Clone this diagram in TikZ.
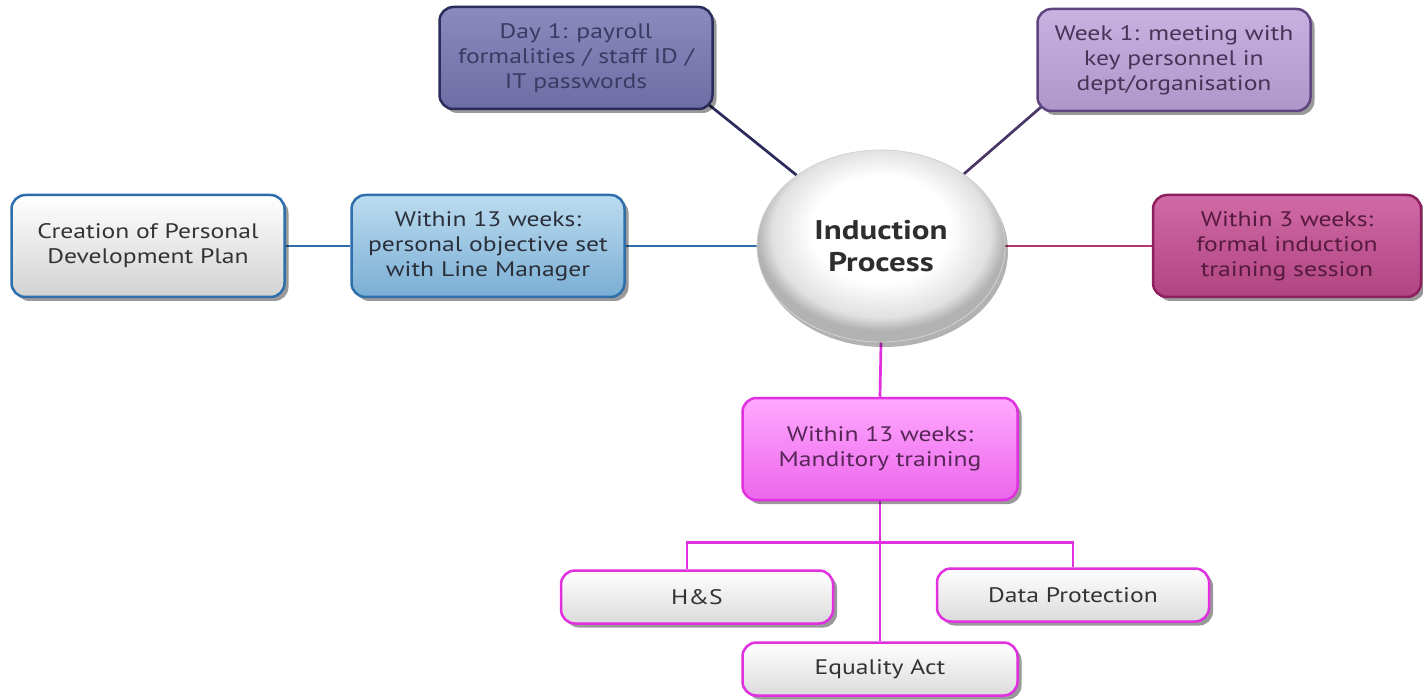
\documentclass[tikz,border=0pt]{standalone}
\usepackage{fontspec}
\setmainfont{PT Sans}[FakeStretch=1.22]
\usetikzlibrary{shadows,shapes.geometric}
\pgfdeclarelayer{back}
\pgfdeclarelayer{bg}
\pgfsetlayers{back,bg,main}
\pgfdeclareradialshading{whiteball}{\pgfpoint{0bp}{6bp}}{color(0bp)=(white); color(14bp)=(white); color(22bp)=(black!12); color(25bp)=(black!30); color(50bp)=(black!30)}
\definecolor{dayB}{HTML}{2B2B5C}\definecolor{dayT}{HTML}{8A8ABE}\definecolor{dayL}{HTML}{6E6EA6}\definecolor{dayX}{HTML}{3A3A62}
\definecolor{wkB}{HTML}{5E4580}\definecolor{wkT}{HTML}{C8B2E0}\definecolor{wkL}{HTML}{AE96CA}\definecolor{wkX}{HTML}{453456}
\definecolor{blB}{HTML}{2E6EAA}\definecolor{blT}{HTML}{BCDCF0}\definecolor{blL}{HTML}{7AAED4}\definecolor{blX}{HTML}{2A2F3A}
\definecolor{pkB}{HTML}{8C1F5E}\definecolor{pkT}{HTML}{D06AA6}\definecolor{pkL}{HTML}{B04482}\definecolor{pkX}{HTML}{561A3E}\definecolor{pkLine}{HTML}{B03878}
\definecolor{mgB}{HTML}{E030E0}\definecolor{mgT}{HTML}{FFA8FF}\definecolor{mgL}{HTML}{EC66EC}\definecolor{mgX}{HTML}{562656}
\definecolor{grL}{HTML}{D2D2D2}\definecolor{txt}{HTML}{333333}
\begin{document}
\begin{tikzpicture}[x=1pt,y=-1pt,
  box/.style={rectangle, rounded corners=14pt, line width=2.5pt, align=center, inner sep=0pt,
    minimum width=273pt, minimum height=102pt,
    font=\fontsize{21}{25}\selectfont,
    drop shadow={shadow xshift=4pt, shadow yshift=-4pt, opacity=0.4, fill=black}},
  small/.style={box, minimum height=53pt, minimum width=272pt},
  conn/.style={line width=2.7pt}]
\begin{pgfonlayer}{back}
\fill[white] (0,0) rectangle (1423,700);
\end{pgfonlayer}
\useasboundingbox (0,0) rectangle (1423,700);

\node[box, draw=dayB, top color=dayT, bottom color=dayL, text=dayX] (day1) at (576,58) {Day 1: payroll\\formalities / staff ID /\\IT passwords};
\node[box, draw=wkB, top color=wkT, bottom color=wkL, text=wkX] (week1) at (1174,60) {Week 1: meeting with\\key personnel in\\dept/organisation};
\node[box, draw=blB, top color=white, bottom color=grL, text=txt] (pdp) at (148,246) {Creation of Personal\\Development Plan};
\node[box, draw=blB, top color=blT, bottom color=blL, text=blX] (obj) at (488,246) {Within 13 weeks:\\personal objective set\\with Line Manager};
\node[box, draw=pkB, top color=pkT, bottom color=pkL, text=pkX, minimum width=268pt] (three) at (1287,246) {Within 3 weeks:\\formal induction\\training session};
\node[ellipse, minimum width=248pt, minimum height=192pt, inner sep=0pt, shading=whiteball,
  draw=gray!35, line width=0.8pt, align=center, text=black!82,
  font=\fontsize{27}{32}\selectfont\bfseries,
  drop shadow={shadow xshift=3pt, shadow yshift=-5pt, opacity=0.3, fill=black}] (circ) at (881,246) {Induction\\Process};
\node[box, draw=mgB, top color=mgT, bottom color=mgL, text=mgX, minimum width=275pt] (mand) at (880,449) {Within 13 weeks:\\Manditory training};
\node[small, draw=mgB, top color=white, bottom color=grL!80, text=txt] (hs) at (697,597) {H\&S};
\node[small, draw=mgB, top color=white, bottom color=grL!80, text=txt] (dp) at (1073,595) {Data Protection};
\node[small, draw=mgB, top color=white, bottom color=grL!80, text=txt, minimum width=275pt] (eq) at (880,669) {Equality Act};

\begin{pgfonlayer}{bg}
\draw[conn, dayB] ([shift={(-8,-8)}]day1.south east) -- (circ.140);
\draw[conn, wkB!80!black] ([shift={(8,-8)}]week1.south west) -- (circ.41);
\draw[conn, blB] (pdp.east) -- (obj.west);
\draw[conn, blB] (obj.east) -- (circ.west);
\draw[conn, pkLine] (circ.east) -- (three.west);
\draw[conn, mgB] (circ.south) -- (mand.north);
\draw[conn, mgB] (mand.south) -- (eq.north);
\draw[conn, mgB] ([xshift=-10pt]hs.north) -- ++(0,-27) -| (dp.north);
\end{pgfonlayer}
\end{tikzpicture}
\end{document}
